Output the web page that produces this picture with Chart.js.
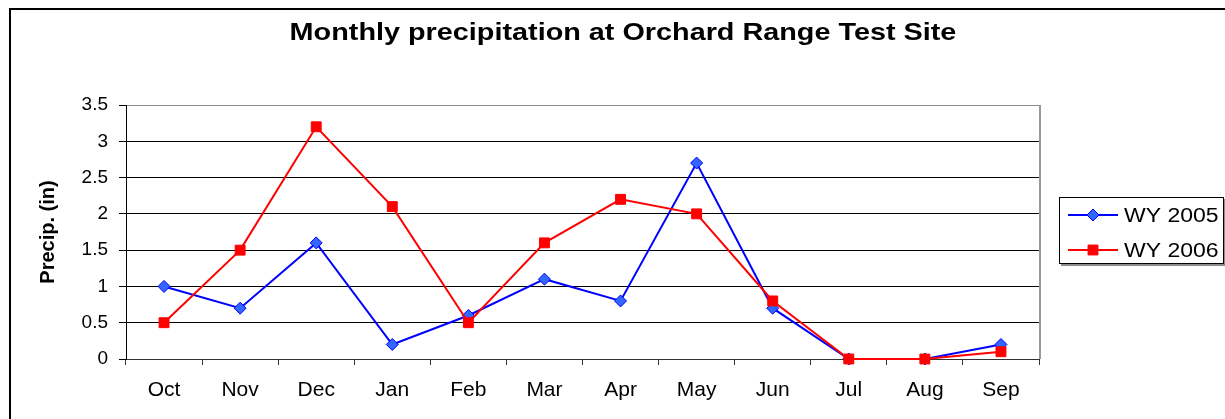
<!DOCTYPE html>
<html><head><meta charset="utf-8">
<script src="https://cdn.jsdelivr.net/npm/chart.js@4/dist/chart.umd.min.js"></script>
<style>html,body{margin:0;padding:0;background:#fff;overflow:hidden;}#wrap{width:1225px;height:419px;position:relative;}</style>
</head><body><div id="wrap"><canvas id="c" width="1225" height="419"></canvas></div>
<script>
const months = ['Oct','Nov','Dec','Jan','Feb','Mar','Apr','May','Jun','Jul','Aug','Sep'];
const wy2005 = [1.0,0.7,1.6,0.2,0.6,1.1,0.8,2.7,0.7,0,0,0.2];
const wy2006 = [0.5,1.5,3.2,2.1,0.5,1.6,2.2,2.0,0.8,0,0,0.1];
const seriesNames = ['WY 2005','WY 2006'];
const yTicks = [0,0.5,1,1.5,2,2.5,3,3.5];
const chartTitle = 'Monthly precipitation at Orchard Range Test Site';
const yTitle = 'Precip. (in)';
const FONT = '"Liberation Sans", Arial, sans-serif';

const framePlugin = {
  id: 'frame',
  beforeDraw(chart) {
    const ctx = chart.ctx;
    ctx.save();
    ctx.fillStyle = '#fff';
    ctx.fillRect(0, 0, chart.width, chart.height);
    ctx.fillStyle = '#000';
    ctx.fillRect(9, 8, 2, chart.height);
    ctx.fillRect(9, 8, chart.width, 2);
    ctx.restore();
  },
  afterDraw(chart) {
    const ctx = chart.ctx;
    const a = chart.chartArea;
    ctx.save();
    ctx.strokeStyle = '#9a9a9a';
    ctx.lineWidth = 2;
    ctx.beginPath();
    ctx.moveTo(a.right + 1, a.top);
    ctx.lineTo(a.right + 1, a.bottom);
    ctx.stroke();
    ctx.fillStyle = '#000';
    ctx.font = 'bold 24px ' + FONT;
    ctx.textAlign = 'center';
    ctx.textBaseline = 'middle';
    ctx.translate(623, 33);
    ctx.scale(1.2, 1);
    ctx.fillText(chartTitle, 0, 0);
    ctx.restore();

    ctx.save();
    const bx = 1059, by = 197, bw = 165, bh = 67;
    ctx.fillStyle = '#8c8c8c';
    ctx.fillRect(bx + 2, by + 2, bw, bh);
    ctx.fillStyle = '#fff';
    ctx.fillRect(bx, by, bw, bh);
    ctx.strokeStyle = '#000';
    ctx.lineWidth = 1;
    ctx.strokeRect(bx + 0.5, by + 0.5, bw - 1, bh - 1);
    const rows = [215, 250];
    chart.data.datasets.forEach((ds, i) => {
      const y = rows[i];
      ctx.strokeStyle = ds.borderColor;
      ctx.lineWidth = ds.borderWidth;
      ctx.beginPath();
      ctx.moveTo(1068, y);
      ctx.lineTo(1118, y);
      ctx.stroke();
      ctx.fillStyle = ds.backgroundColor;
      ctx.strokeStyle = ds.pointBorderColor;
      ctx.lineWidth = 1;
      Chart.helpers.drawPoint(ctx, {pointStyle: ds.pointStyle, radius: ds.pointRadius, borderWidth: 1, rotation: 0}, 1093, y);
      ctx.save();
      ctx.fillStyle = '#000';
      ctx.font = '20px ' + FONT;
      ctx.textAlign = 'left';
      ctx.textBaseline = 'middle';
      ctx.translate(1124, y + 1);
      ctx.scale(1.15, 1);
      ctx.fillText(ds.label, 0, 0);
      ctx.restore();
    });
    ctx.restore();
  }
};

new Chart(document.getElementById('c'), {
  type: 'line',
  data: {
    labels: months,
    datasets: [
      {
        label: seriesNames[0], data: wy2005,
        borderColor: '#0000FF', borderWidth: 2,
        backgroundColor: '#3366FF', pointBorderColor: '#0000FF', pointBackgroundColor: '#3366FF',
        pointStyle: 'rectRot', pointRadius: 6, pointBorderWidth: 1,
        tension: 0, clip: false, order: 2
      },
      {
        label: seriesNames[1], data: wy2006,
        borderColor: '#FF0000', borderWidth: 2,
        backgroundColor: '#FF0000', pointBorderColor: '#FF0000', pointBackgroundColor: '#FF0000',
        pointStyle: 'rect', pointRadius: 7, pointBorderWidth: 1,
        tension: 0, clip: false, order: 1
      }
    ]
  },
  options: {
    responsive: false,
    animation: false,
    devicePixelRatio: 1,
    layout: { padding: { top: 105, right: 186, bottom: 0, left: 0 } },
    plugins: { legend: { display: false }, title: { display: false }, tooltip: { enabled: false } },
    scales: {
      x: {
        offset: true,
        grid: { offset: true, drawOnChartArea: false, drawTicks: true, tickLength: 6, color: '#333', tickColor: '#333' },
        border: { display: true, color: '#333', width: 1 },
        ticks: { color: '#000', font: { family: FONT, size: 21 }, padding: 13, maxRotation: 0, autoSkip: false },
        afterFit(s) { s.height = 60; }
      },
      y: {
        min: 0, max: 3.5,
        afterBuildTicks(s) { s.ticks = yTicks.map(v => ({ value: v })); },
        grid: {
          color: c => (c.tick && c.tick.value === 3.5) ? '#8c8c8c' : '#000',
          tickColor: '#000', lineWidth: 1, tickLength: 7, drawTicks: true
        },
        border: { display: true, color: '#000', width: 1 },
        ticks: { color: '#000', font: { family: FONT, size: 19 }, padding: 11, callback: v => String(v) },
        title: { display: true, text: yTitle, color: '#000', font: { family: FONT, size: 20, weight: 'bold' }, padding: { top: 36, bottom: 0 } },
        afterFit(s) { s.width = 126; }
      }
    }
  },
  plugins: [framePlugin]
});
</script>
</body></html>
